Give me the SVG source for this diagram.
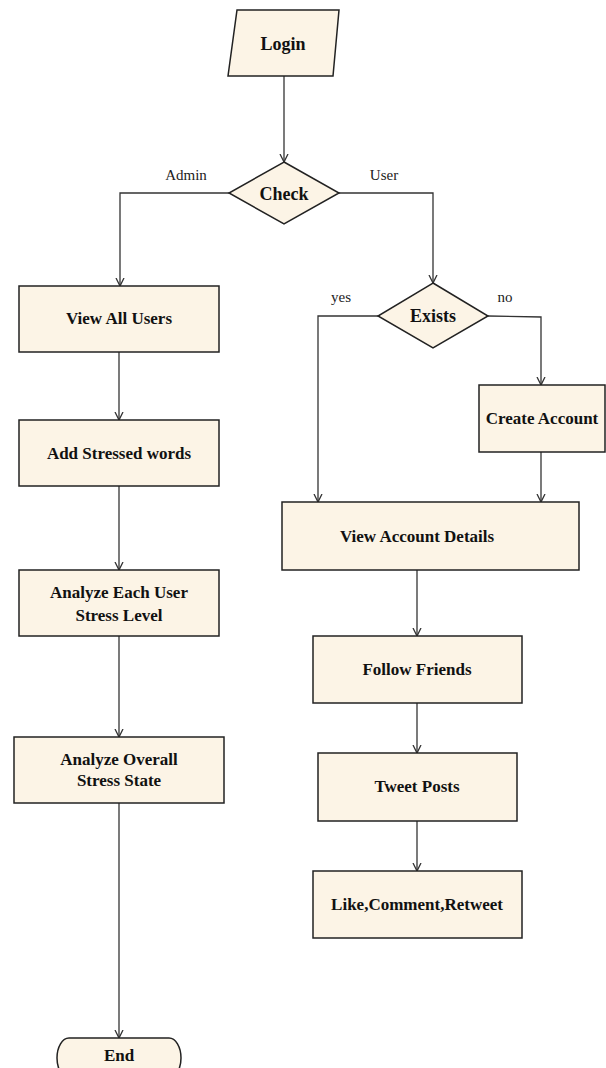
<svg xmlns="http://www.w3.org/2000/svg" width="606" height="1068" viewBox="0 0 606 1068">
<defs>
<style>
.n{fill:#FCF4E6;stroke:#222;stroke-width:1.5}
.t{font-family:"Liberation Serif","DejaVu Serif",serif;font-weight:bold;font-size:17px;fill:#111;text-anchor:middle}
.tb{font-size:18px}
.l{font-family:"Liberation Serif","DejaVu Serif",serif;font-size:15px;fill:#222;text-anchor:middle}
.c{fill:none;stroke:#333;stroke-width:1.3}
</style>
<marker id="a" markerWidth="10" markerHeight="10" refX="8" refY="5" orient="auto" markerUnits="userSpaceOnUse">
<path d="M0,1 L8,5 L0,9" fill="none" stroke="#333" stroke-width="1.3"/>
</marker>
</defs>
<rect width="606" height="1068" fill="#fff"/>
<g id="connectors">
<path class="c" d="M284,76 V162" marker-end="url(#a)"/>
<path class="c" d="M229,193 H120 V286" marker-end="url(#a)"/>
<path class="c" d="M339,193 H433 V283" marker-end="url(#a)"/>
<path class="c" d="M378,316 H318 V502" marker-end="url(#a)"/>
<path class="c" d="M488,316 L541,317 V385" marker-end="url(#a)"/>
<path class="c" d="M541,452 V502" marker-end="url(#a)"/>
<path class="c" d="M417,570 V636" marker-end="url(#a)"/>
<path class="c" d="M417,703 V753" marker-end="url(#a)"/>
<path class="c" d="M417,821 V871" marker-end="url(#a)"/>
<path class="c" d="M119,352 V420" marker-end="url(#a)"/>
<path class="c" d="M119,486 V570" marker-end="url(#a)"/>
<path class="c" d="M119,636 V737" marker-end="url(#a)"/>
<path class="c" d="M119,803 V1038" marker-end="url(#a)"/>
<text class="l" x="186" y="180">Admin</text>
<text class="l" x="384" y="180">User</text>
<text class="l" x="341" y="302">yes</text>
<text class="l" x="505" y="302">no</text>
</g>
<g id="login">
<polygon class="n" points="237,10 339,10 333,76 228,76"/>
<text class="t tb" x="283" y="50">Login</text>
</g>
<g id="check">
<polygon class="n" points="284,162 339,193 284,224 229,193"/>
<text class="t tb" x="284" y="200">Check</text>
</g>
<g id="exists">
<polygon class="n" points="433,283 488,316 433,348 378,316"/>
<text class="t tb" x="433" y="322">Exists</text>
</g>
<g id="view-all-users">
<rect class="n" x="19" y="286" width="200" height="66"/>
<text class="t" x="119" y="324">View All Users</text>
</g>
<g id="add-stressed-words">
<rect class="n" x="19" y="420" width="200" height="66"/>
<text class="t" x="119" y="459">Add Stressed words</text>
</g>
<g id="analyze-each">
<rect class="n" x="19" y="570" width="200" height="66"/>
<text class="t" x="119" y="598">Analyze Each User</text>
<text class="t" x="119" y="621">Stress Level</text>
</g>
<g id="analyze-overall">
<rect class="n" x="14" y="737" width="210" height="66"/>
<text class="t" x="119" y="765">Analyze Overall</text>
<text class="t" x="119" y="786">Stress State</text>
</g>
<g id="end">
<rect class="n" x="57" y="1038" width="124" height="40" rx="12" ry="20"/>
<text class="t" x="119" y="1061">End</text>
</g>
<g id="create-account">
<rect class="n" x="479" y="385" width="126" height="67"/>
<text class="t" x="542" y="424">Create Account</text>
</g>
<g id="view-account-details">
<rect class="n" x="282" y="502" width="297" height="68"/>
<text class="t" x="417" y="542">View Account Details</text>
</g>
<g id="follow-friends">
<rect class="n" x="313" y="636" width="209" height="67"/>
<text class="t" x="417" y="675">Follow Friends</text>
</g>
<g id="tweet-posts">
<rect class="n" x="318" y="753" width="199" height="68"/>
<text class="t" x="417" y="792">Tweet Posts</text>
</g>
<g id="like">
<rect class="n" x="313" y="871" width="209" height="67"/>
<text class="t" x="417" y="910">Like,Comment,Retweet</text>
</g>
</svg>
